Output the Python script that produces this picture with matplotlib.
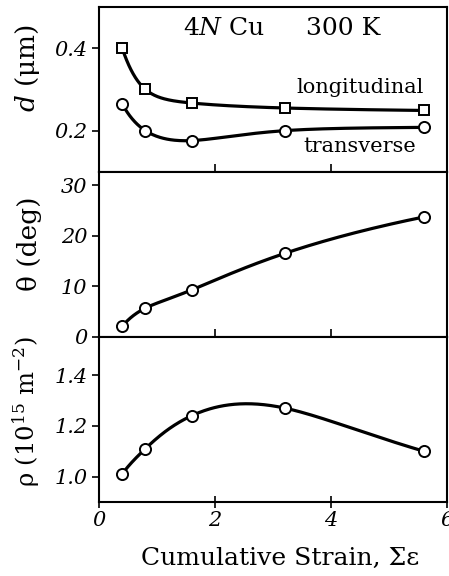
import numpy as np
import matplotlib
matplotlib.use("Agg")
from matplotlib import pyplot as plt

strain = [0.4, 0.8, 1.6, 3.2, 5.6]
d_long = [0.400, 0.300, 0.267, 0.255, 0.249]
d_trans = [0.265, 0.200, 0.176, 0.200, 0.208]
theta = [2.1, 5.7, 9.3, 16.5, 23.7]
rho = [1.01, 1.11, 1.24, 1.27, 1.10]


def spline(x, y, n=200):
    # natural cubic spline in log(x), only for drawing a smooth line through the points
    u = np.log(np.asarray(x, float))
    y = np.asarray(y, float)
    m = len(u)
    h = np.diff(u)
    A = np.zeros((m, m))
    b = np.zeros(m)
    A[0, 0] = A[-1, -1] = 1
    for i in range(1, m - 1):
        A[i, i - 1] = h[i - 1]
        A[i, i] = 2 * (h[i - 1] + h[i])
        A[i, i + 1] = h[i]
        b[i] = 6 * ((y[i + 1] - y[i]) / h[i] - (y[i] - y[i - 1]) / h[i - 1])
    M = np.linalg.solve(A, b)
    us = np.linspace(u[0], u[-1], n)
    k = np.clip(np.searchsorted(u, us) - 1, 0, m - 2)
    t0 = u[k + 1] - us
    t1 = us - u[k]
    hk = h[k]
    ys = (M[k] * t0**3 + M[k + 1] * t1**3) / (6 * hk) \
        + (y[k] / hk - M[k] * hk / 6) * t0 + (y[k + 1] / hk - M[k + 1] * hk / 6) * t1
    return np.exp(us), ys


plt.rcParams['font.family'] = ['DejaVu Serif']
plt.rcParams['mathtext.fontset'] = 'dejavuserif'

fig = plt.figure(figsize=(4.49, 5.76), dpi=100)
gs = fig.add_gridspec(3, 1, left=0.2205, right=0.9955, top=0.988, bottom=0.1285, hspace=0)
ax1 = fig.add_subplot(gs[0])
ax2 = fig.add_subplot(gs[1], sharex=ax1)
ax3 = fig.add_subplot(gs[2], sharex=ax1)

lw = 2.3
circ = dict(marker='o', mfc='white', mec='black', mew=1.4, ms=8, ls='none', zorder=3)
sq = dict(marker='s', mfc='white', mec='black', mew=1.4, ms=7.5, ls='none', zorder=3)

xs, ys = spline(strain, d_long)
ax1.plot(xs, ys, color='black', lw=lw)
ax1.plot(strain, d_long, **sq)
xs, ys = spline(strain, d_trans)
ax1.plot(xs, ys, color='black', lw=lw)
ax1.plot(strain, d_trans, **circ)

xs, ys = spline(strain, theta)
ax2.plot(xs, ys, color='black', lw=lw)
ax2.plot(strain, theta, **circ)

xs, ys = spline(strain, rho)
ax3.plot(xs, ys, color='black', lw=lw)
ax3.plot(strain, rho, **circ)

ax1.set_ylim(0.1, 0.5)
ax1.set_yticks([0.2, 0.4])
ax1.set_yticklabels(['0.2', '0.4'])
ax2.set_ylim(0, 32.6)
ax2.set_yticks([0, 10, 20, 30])
ax3.set_ylim(0.9, 1.55)
ax3.set_yticks([1.0, 1.2, 1.4])
ax3.set_yticklabels(['1.0', '1.2', '1.4'])
ax3.set_xlim(0, 6)
ax3.set_xticks([0, 2, 4, 6])

for ax in (ax1, ax2, ax3):
    for s in ax.spines.values():
        s.set_linewidth(1.5)
    ax.tick_params(axis='y', direction='out', length=5, width=1.2, labelsize=15)
    ax.tick_params(axis='x', direction='in', length=6, width=1.2, labelsize=15)
    for lab in ax.get_yticklabels() + ax.get_xticklabels():
        lab.set_fontstyle('italic')
for ax in (ax1, ax2):
    ax.tick_params(axis='x', labelbottom=False)
ax3.tick_params(axis='x', direction='inout', length=9, pad=2)

ax1.set_ylabel(r'$d$ (μm)', fontsize=19)
ax2.set_ylabel('θ (deg)', fontsize=19)
ax3.set_ylabel(r'ρ (10$^{15}$ m$^{-2}$)', fontsize=17.5)
ax1.yaxis.set_label_coords(-0.165, 0.63)
ax2.yaxis.set_label_coords(-0.165, 0.563)
ax3.yaxis.set_label_coords(-0.165, 0.545)
ax3.set_xlabel('Cumulative Strain, Σε', fontsize=18)
ax3.xaxis.set_label_coords(0.52, -0.27)

ax1.text(2.16, 0.448, r'4$N$ Cu', fontsize=18, ha='center', va='center')
ax1.text(4.21, 0.448, '300 K', fontsize=18, ha='center', va='center')
ax1.text(4.5, 0.305, 'longitudinal', fontsize=15, ha='center', va='center')
ax1.text(4.5, 0.161, 'transverse', fontsize=15, ha='center', va='center')

fig.savefig('out.png', dpi=100)
